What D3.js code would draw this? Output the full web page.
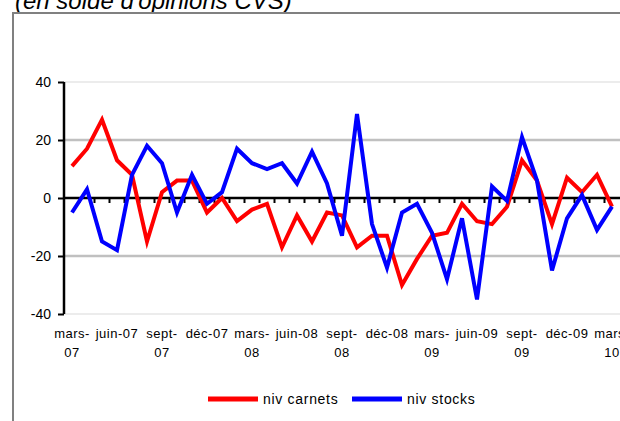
<!DOCTYPE html>
<html>
<head>
<meta charset="utf-8">
<script src="https://cdn.jsdelivr.net/npm/d3@7"></script>
<style>
    body { margin: 0; background: #fff; }
    svg { display: block; font-family: Arial, "Liberation Sans", sans-serif; }
</style>
</head>
<body>
<div id="chart"></div>
<script>
// months, mars-07 to mars-10
var months = ["2007-03", "2007-04", "2007-05", "2007-06", "2007-07", "2007-08", "2007-09", "2007-10", "2007-11", "2007-12",
    "2008-01", "2008-02", "2008-03", "2008-04", "2008-05", "2008-06", "2008-07", "2008-08", "2008-09", "2008-10", "2008-11", "2008-12",
    "2009-01", "2009-02", "2009-03", "2009-04", "2009-05", "2009-06", "2009-07", "2009-08", "2009-09", "2009-10", "2009-11", "2009-12",
    "2010-01", "2010-02", "2010-03"];

var carnets = [11, 17, 27, 13, 8, -15, 2, 6, 6, -5, 0, -8, -4, -2, -17, -6, -15, -5, -6, -17, -13, -13,
    -30, -21, -13, -12, -2, -8, -9, -3, 13, 6, -9, 7, 2, 8, -3];

var stocks = [-5, 3, -15, -18, 8, 18, 12, -5, 8, -2, 2, 17, 12, 10, 12, 5, 16, 5, -13, 29, -9, -24,
    -5, -2, -12, -28, -7, -35, 4, -1, 21, 6, -25, -7, 1, -11, -3];

// one label every 3 months, "|" = line break
var tickMonths = ["2007-03", "2007-06", "2007-09", "2007-12", "2008-03", "2008-06", "2008-09", "2008-12",
    "2009-03", "2009-06", "2009-09", "2009-12", "2010-03"];
var tickLabels = ["mars-|07", "juin-07", "sept-|07", "déc-07", "mars-|08", "juin-08", "sept-|08", "déc-08",
    "mars-|09", "juin-09", "sept-|09", "déc-09", "mars-|10"];

var yTicks = [-40, -20, 0, 20, 40];

var seriesNames = ["niv carnets", "niv stocks"];
var seriesColors = ["#ff0000", "#0000ff"];

var svgWidth = 620;
var svgHeight = 421;

var svg = d3.select("#chart")
    .append("svg")
    .attr("width", svgWidth)
    .attr("height", svgHeight);

// title, mostly cut off at the top
svg.append("text")
    .attr("x", 15)
    .attr("y", 9)
    .attr("font-size", "24px")
    .attr("font-style", "italic")
    .attr("fill", "#000")
    .text("(en solde d'opinions CVS)");

// outer frame (only top and left visible)
svg.append("path")
    .attr("d", "M13,421 V13 H620")
    .attr("fill", "none")
    .attr("stroke", "#808080")
    .attr("stroke-width", 2);

// scales
var xScale = d3.scalePoint()
    .domain(months)
    .range([64.5, 619.5])
    .padding(0.5);

var yScale = d3.scaleLinear()
    .domain([-40, 40])
    .range([314, 82]);

var step = xScale.step();
var axisX = 64;

// grid lines
svg.append("g")
    .selectAll("line")
    .data(yTicks.filter(d => d !== 0))
    .enter()
    .append("line")
    .attr("x1", axisX)
    .attr("x2", svgWidth)
    .attr("y1", d => yScale(d))
    .attr("y2", d => yScale(d))
    .attr("stroke", d => Math.abs(d) === 40 ? "#e6e6e6" : "#c0c0c0")
    .attr("stroke-width", d => Math.abs(d) === 40 ? 1.5 : 2.5);

// y axis (plain hyphen for negatives, like the original)
var yAxis = d3.axisLeft(yScale)
    .tickValues(yTicks)
    .tickSize(6)
    .tickPadding(7)
    .tickFormat(d => String(d));

var yAxisGroup = svg.append("g")
    .attr("transform", `translate(${axisX}, 0)`)
    .call(yAxis);

yAxisGroup.select(".domain")
    .attr("stroke", "#000")
    .attr("stroke-width", 2.5)
    .attr("d", `M0,${yScale(40)}V${yScale(-40)}`);

yAxisGroup.selectAll(".tick line")
    .attr("stroke", "#000")
    .attr("stroke-width", 2);

yAxisGroup.selectAll(".tick text")
    .attr("font-size", "14px")
    .attr("font-family", "Arial, 'Liberation Sans', sans-serif")
    .attr("fill", "#000");

// category axis on the zero line, minor ticks between months
var y0 = yScale(0);
svg.append("line")
    .attr("x1", axisX)
    .attr("x2", svgWidth)
    .attr("y1", y0)
    .attr("y2", y0)
    .attr("stroke", "#000")
    .attr("stroke-width", 2.5);

svg.append("g")
    .selectAll("line")
    .data(months.slice(0, -1))
    .enter()
    .append("line")
    .attr("x1", d => xScale(d) + step / 2)
    .attr("x2", d => xScale(d) + step / 2)
    .attr("y1", y0)
    .attr("y2", y0 + 5)
    .attr("stroke", "#000")
    .attr("stroke-width", 2);

// x labels at the bottom
var xLabels = svg.append("g")
    .selectAll("text")
    .data(tickMonths)
    .enter()
    .append("text")
    .attr("text-anchor", "middle")
    .attr("font-size", "13px")
    .attr("letter-spacing", "0.5px")
    .attr("fill", "#000");

xLabels.each(function (d, i) {
    var lines = tickLabels[i].split("|");
    var t = d3.select(this);
    lines.forEach(function (ln, j) {
        t.append("tspan")
            .attr("x", xScale(d))
            .attr("y", 338 + j * 19)
            .text(ln);
    });
});

// lines
var line = d3.line()
    .x((d, i) => xScale(months[i]))
    .y(d => yScale(d));

[carnets, stocks].forEach(function (series, k) {
    svg.append("path")
        .datum(series)
        .attr("fill", "none")
        .attr("stroke", seriesColors[k])
        .attr("stroke-width", 4)
        .attr("stroke-linejoin", "miter")
        .attr("d", line);
});

// legend
var legendX = [208, 352];
var legend = svg.append("g")
    .selectAll("g")
    .data(seriesNames)
    .enter()
    .append("g")
    .attr("transform", (d, i) => `translate(${legendX[i]}, 399)`);

legend.append("line")
    .attr("x1", 0)
    .attr("x2", 50)
    .attr("stroke", (d, i) => seriesColors[i])
    .attr("stroke-width", 5);

legend.append("text")
    .attr("x", 55)
    .attr("y", 5)
    .attr("font-size", "14px")
    .attr("letter-spacing", "0.7px")
    .attr("fill", "#000")
    .text(d => d);
</script>
</body>
</html>
